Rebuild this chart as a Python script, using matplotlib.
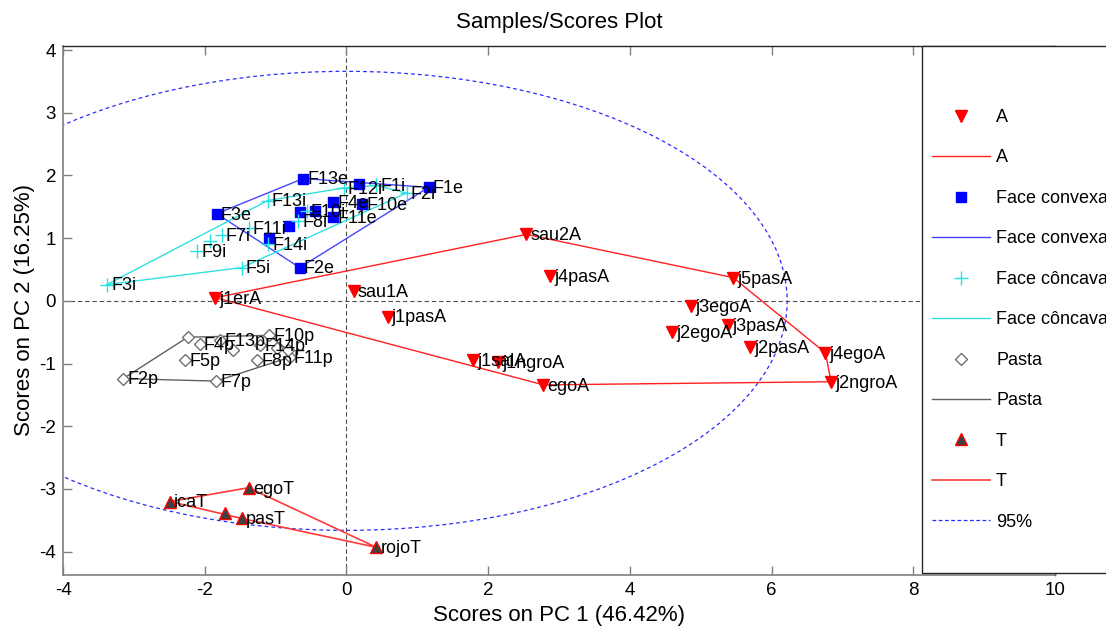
import matplotlib.pyplot as plt
from matplotlib.patches import Ellipse, Rectangle
from matplotlib.lines import Line2D

plt.rcParams['font.family'] = ['Liberation Sans', 'DejaVu Sans']
plt.rcParams['axes.unicode_minus'] = False

# scores (PC1, PC2)
a_names = ['j1erA', 'sau1A', 'sau2A', 'j4pasA', 'j1pasA', 'j1salA', 'j1ngroA', 'egoA',
           'j5pasA', 'j3egoA', 'j3pasA', 'j2egoA', 'j2pasA', 'j4egoA', 'j2ngroA']
a_pc1 = [-1.85, 0.10, 2.54, 2.87, 0.58, 1.79, 2.14, 2.78, 5.46, 4.86, 5.39, 4.60, 5.70, 6.76, 6.84]
a_pc2 = [0.05, 0.16, 1.06, 0.39, -0.25, -0.95, -0.97, -1.34, 0.37, -0.09, -0.38, -0.50, -0.74, -0.83, -1.29]

cx_names = ['F13e', '', 'F1e', 'F3e', 'F2e', '', '', 'F4e', 'F10e', 'F11e', '', '']
cx_pc1 = [-0.61, 0.18, 1.16, -1.83, -0.66, -0.66, -0.44, -0.19, 0.22, -0.19, -0.81, -1.09]
cx_pc2 = [1.95, 1.86, 1.81, 1.39, 0.53, 1.42, 1.44, 1.58, 1.55, 1.33, 1.19, 1.01]

cc_names = ['F3i', 'F9i', '', 'F7i', 'F5i', 'F11i', 'F13i', 'F14i', 'F8i', 'F10i', 'F12i', 'F1i', 'F2i']
cc_pc1 = [-3.38, -2.11, -1.93, -1.76, -1.48, -1.38, -1.11, -1.10, -0.68, -0.56, -0.04, 0.42, 0.85]
cc_pc2 = [0.26, 0.79, 0.95, 1.05, 0.53, 1.16, 1.60, 0.90, 1.27, 1.43, 1.80, 1.84, 1.72]

p_names = ['F2p', 'F7p', 'F5p', '', 'F4p', 'F13p', '', 'F14p', 'F10p', '', 'F8p', 'F11p', '']
p_pc1 = [-3.15, -1.84, -2.28, -2.24, -2.07, -1.78, -1.60, -1.22, -1.09, -0.98, -1.26, -0.80, -0.83]
p_pc2 = [-1.24, -1.28, -0.94, -0.58, -0.69, -0.62, -0.78, -0.70, -0.55, -0.75, -0.94, -0.90, -0.78]

t_names = ['icaT', 'egoT', '', 'pasT', 'rojoT']
t_pc1 = [-2.49, -1.38, -1.72, -1.48, 0.42]
t_pc2 = [-3.20, -2.98, -3.38, -3.47, -3.93]

# 95% limit ellipse, semi-axes
ell_a = 6.22
ell_b = 3.66


def hull(xs, ys):
    # monotone chain convex hull, closed
    pts = sorted(zip(xs, ys))

    def cross(o, a, b):
        return (a[0] - o[0]) * (b[1] - o[1]) - (a[1] - o[1]) * (b[0] - o[0])
    lower, upper = [], []
    for p in pts:
        while len(lower) >= 2 and cross(lower[-2], lower[-1], p) <= 0:
            lower.pop()
        lower.append(p)
    for p in reversed(pts):
        while len(upper) >= 2 and cross(upper[-2], upper[-1], p) <= 0:
            upper.pop()
        upper.append(p)
    h = lower[:-1] + upper[:-1]
    h.append(h[0])
    return [p[0] for p in h], [p[1] for p in h]


fig = plt.figure(figsize=(11.06, 6.28), dpi=100)
ax = fig.add_axes([63 / 1106, 1 - 575 / 628, (1055 - 63) / 1106, (575 - 46) / 628])

ax.axhline(0, color='#505050', ls=(0, (4, 2.5)), lw=0.8, zorder=1)
ax.axvline(0, color='#505050', ls=(0, (4, 2.5)), lw=0.8, zorder=1)

ax.add_patch(Ellipse((0, 0), 2 * ell_a, 2 * ell_b, fill=False, ec='#2a2aff',
                     ls=(0, (3, 2.5)), lw=0.9, zorder=2))

groups = [
    (a_pc1, a_pc2, a_names, 'A', dict(marker='v', color='red', ms=9), dict(color='#ff2020', lw=1.0)),
    (cx_pc1, cx_pc2, cx_names, 'Face convexa', dict(marker='s', color='#0000ff', ms=7), dict(color='#4646ff', lw=1.0)),
    (cc_pc1, cc_pc2, cc_names, 'Face côncava', dict(marker='+', color='#22e4e4', ms=10, mew=1.0), dict(color='#30e0e0', lw=1.0)),
    (p_pc1, p_pc2, p_names, 'Pasta', dict(marker='D', mfc='white', mec='#707070', ms=6.5, mew=1.0), dict(color='#606060', lw=1.0)),
    (t_pc1, t_pc2, t_names, 'T', dict(marker='^', mfc='#404040', mec='red', ms=8.5, mew=1.0), dict(color='#ff3a3a', lw=1.2)),
]

handles = []
labels = []
for xs, ys, names, lab, mstyle, lstyle in groups:
    hx, hy = hull(xs, ys)
    ln, = ax.plot(hx, hy, zorder=3, **lstyle)
    mk, = ax.plot(xs, ys, ls='none', zorder=4, **mstyle)
    for x, y, n in zip(xs, ys, names):
        if n:
            ax.annotate(n, (x, y), xytext=(3, -1), textcoords='offset points',
                        fontsize=13, ha='left', va='center', zorder=5)
    handles += [mk, ln]
    labels += [lab, lab]

handles.append(Line2D([], [], color='#2a2aff', ls=(0, (3, 2)), lw=0.9))
labels.append('95%')

ax.set_xlim(-4, 10)
ax.set_ylim(-4.372, 4.064)
ax.set_xticks(range(-4, 11, 2))
ax.set_yticks(range(-4, 5))
ax.tick_params(direction='in', length=6.5, width=1, color='#808080', top=True, right=True,
               labelsize=13.5, pad=5)
for s in ['left', 'bottom']:
    ax.spines[s].set_color('#808080')
    ax.spines[s].set_linewidth(1.2)
for s in ['top', 'right']:
    ax.spines[s].set_color('#262626')
    ax.spines[s].set_linewidth(1.0)

ax.set_title('Samples/Scores Plot', fontsize=16, pad=13)
ax.set_xlabel('Scores on PC 1 (46.42%)', fontsize=16, labelpad=4)
ax.set_ylabel('Scores on PC 2 (16.25%)', fontsize=16, labelpad=3)

# legend box, runs past the right edge like the reference
box = Rectangle((921.7 / 1106, 1 - 573 / 628), (1120 - 921.7) / 1106, (573 - 46) / 628,
                transform=fig.transFigure, fc='white', ec='#262626', lw=1.0, zorder=3)
fig.add_artist(box)
fig.legend(handles, labels, loc='upper left', bbox_to_anchor=(932 / 1106, 1 - 109 / 628),
           frameon=False, fontsize=13, handlelength=3.2, handletextpad=0.35,
           labelspacing=1.30, borderpad=0, borderaxespad=0)

fig.savefig('out.png', dpi=100)
